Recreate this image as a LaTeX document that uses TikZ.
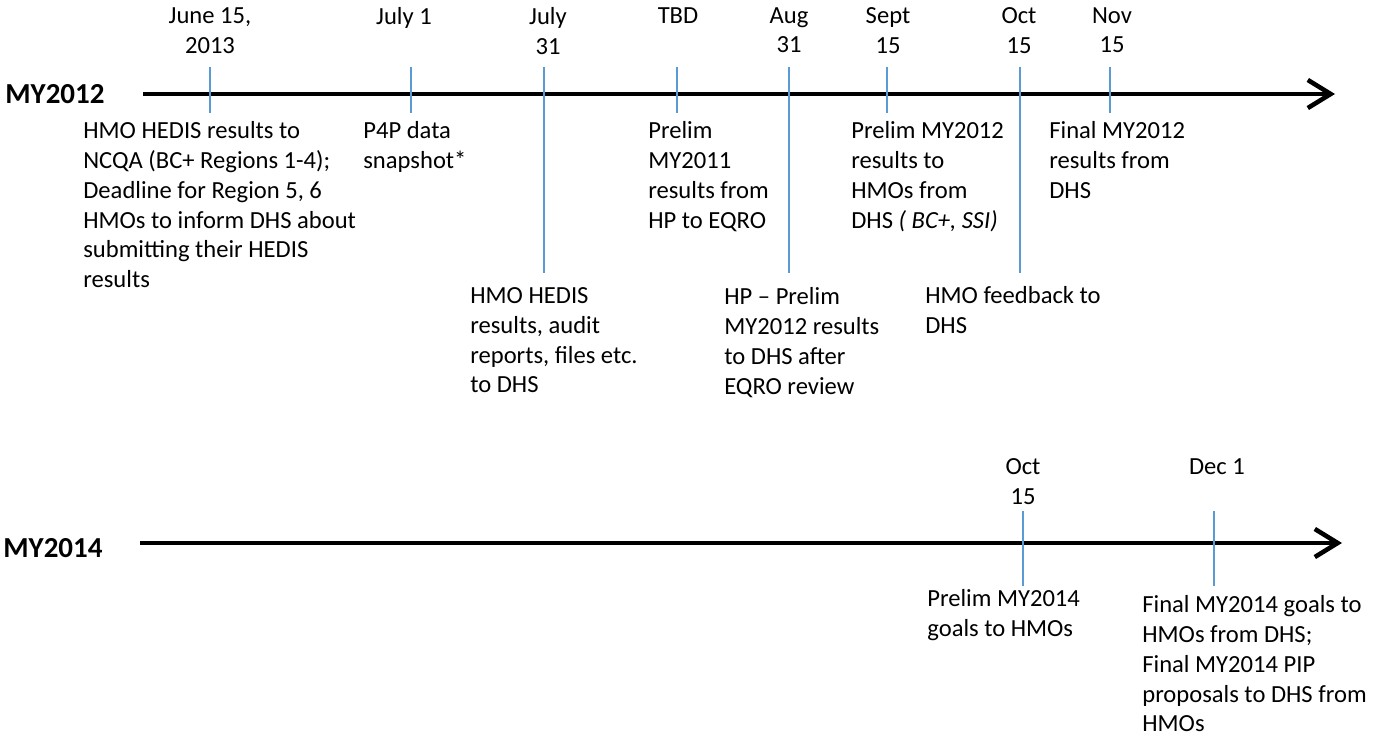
\documentclass[tikz,border=0pt]{standalone}
\usepackage{fontspec}
\setmainfont{Carlito}
\usetikzlibrary{arrows.meta}
\definecolor{tickblue}{HTML}{5B9BD5}
\newcommand{\px}{0.02cm}

\begin{document}
\begin{tikzpicture}[x=\px, y=-\px,
    timeline/.style={line width=2.6pt, -{Straight Barb[length=13pt, width=16pt]}},
    tickline/.style={draw=tickblue, line width=1.1pt},
    date/.style={anchor=north, align=center, inner sep=0pt, font=\fontsize{14}{17}\selectfont},
    note/.style={anchor=north west, align=left, inner sep=0pt, font=\fontsize{14}{17}\selectfont},
    year/.style={anchor=west, inner sep=0pt, font=\fontsize{16.5}{19}\selectfont\bfseries}]
    \useasboundingbox (0,0) rectangle (1373,736);

    % First row: MY2012
    \node[year] (year-1) at (5,94) {MY2012};
    \coordinate (line-1-start) at (143,94);
    \coordinate (line-1-end) at (1335,94);
    \draw[timeline] (line-1-start) -- (line-1-end);

    \coordinate (tick-1-1-top) at (210,67);  \coordinate (tick-1-1-bot) at (210,113);
    \coordinate (tick-1-2-top) at (411,67);  \coordinate (tick-1-2-bot) at (411,113);
    \coordinate (tick-1-3-top) at (544,67);  \coordinate (tick-1-3-bot) at (544,273);
    \coordinate (tick-1-4-top) at (677,67);  \coordinate (tick-1-4-bot) at (677,113);
    \coordinate (tick-1-5-top) at (789,67);  \coordinate (tick-1-5-bot) at (789,273);
    \coordinate (tick-1-6-top) at (887,67);  \coordinate (tick-1-6-bot) at (887,113);
    \coordinate (tick-1-7-top) at (1020,67); \coordinate (tick-1-7-bot) at (1020,273);
    \coordinate (tick-1-8-top) at (1110,67); \coordinate (tick-1-8-bot) at (1110,113);
    \foreach \i in {1,...,8}
        \draw[tickline] (tick-1-\i-top) -- (tick-1-\i-bot);

    \node[date] (date-1-1) at (210,7) {June 15,\\2013};
    \node[date] (date-1-2) at (404,7) {July 1};
    \node[date] (date-1-3) at (548,7) {July\\31};
    \node[date] (date-1-4) at (678,7) {TBD};
    \node[date] (date-1-5) at (789,7) {Aug\\31};
    \node[date] (date-1-6) at (888,7) {Sept\\15};
    \node[date] (date-1-7) at (1019,7) {Oct\\15};
    \node[date] (date-1-8) at (1112,7) {Nov\\15};

    \node[note] (note-1-1) at (83,121) {HMO HEDIS results to\\NCQA (BC+ Regions 1-4);\\Deadline for Region 5, 6\\HMOs to inform DHS about\\submitting their HEDIS\\results};
    \node[note] (note-1-2) at (363,121) {P4P data\\snapshot*};
    \node[note] (note-1-3) at (470,287) {HMO HEDIS\\results, audit\\reports, files etc.\\to DHS};
    \node[note] (note-1-4) at (648,121) {Prelim\\MY2011\\results from\\HP to EQRO};
    \node[note] (note-1-5) at (724,287) {HP -- Prelim\\MY2012 results\\to DHS after\\EQRO review};
    \node[note] (note-1-6) at (851,121) {Prelim MY2012\\results to\\HMOs from\\DHS \textit{( BC+, SSI)}};
    \node[note] (note-1-7) at (925,286) {HMO feedback to\\DHS};
    \node[note] (note-1-8) at (1049,121) {Final MY2012\\results from\\DHS};

    % Second row: MY2014
    \node[year] (year-2) at (3,548) {MY2014};
    \coordinate (line-2-start) at (140,543);
    \coordinate (line-2-end) at (1342,543);
    \draw[timeline] (line-2-start) -- (line-2-end);

    \coordinate (tick-2-1-top) at (1023,511); \coordinate (tick-2-1-bot) at (1023,586);
    \coordinate (tick-2-2-top) at (1214,511); \coordinate (tick-2-2-bot) at (1214,586);
    \foreach \i in {1,2}
        \draw[tickline] (tick-2-\i-top) -- (tick-2-\i-bot);

    \node[date] (date-2-1) at (1023,458) {Oct\\15};
    \node[date] (date-2-2) at (1217,458) {Dec 1};

    \node[note] (note-2-1) at (927,589) {Prelim MY2014\\goals to HMOs};
    \node[note] (note-2-2) at (1142,595) {Final MY2014 goals to\\HMOs from DHS;\\Final MY2014 PIP\\proposals to DHS from\\HMOs};

\end{tikzpicture}
\end{document}
